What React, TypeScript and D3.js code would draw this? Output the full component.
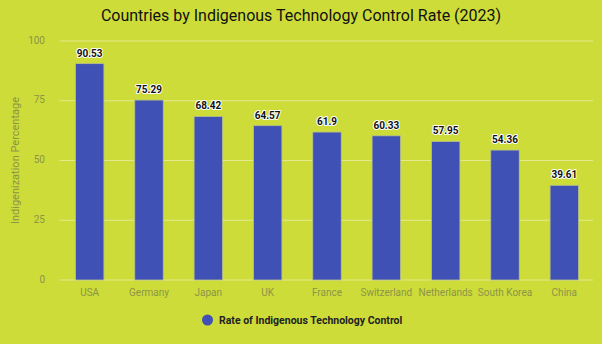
import React from "react";
import * as d3 from "d3";

const categories = ["USA", "Germany", "Japan", "UK", "France", "Switzerland", "Netherlands", "South Korea", "China"];
const values = [90.53, 75.29, 68.42, 64.57, 61.9, 60.33, 57.95, 54.36, 39.61];
const yTicks = [0, 25, 50, 75, 100];
const valueLabels = ["90.53", "75.29", "68.42", "64.57", "61.9", "60.33", "57.95", "54.36", "39.61"];

const W = 602, H = 344;
const BG = "#cddc39";
const BAR = "#3f51b5";
const FONT = "Roboto, 'Noto Sans', sans-serif";

export default function App() {
  const x = d3.scaleBand<string>().domain(categories).range([60, 594]).paddingInner(0.52).paddingOuter(0.26);
  const y = d3.scaleLinear().domain([0, 100]).range([280, 41]);
  return (
    <svg width={W} height={H} style={{ position: "absolute", left: 0, top: 0, display: "block" }}>
      <rect width={W} height={H} fill={BG} />
      <text x={301} y={17} textAnchor="middle" dominantBaseline="middle" fontFamily={FONT} fontSize={16} fill="#111">
        Countries by Indigenous Technology Control Rate (2023)
      </text>
      {yTicks.map((t) => (
        <g key={t}>
          <line x1={59.5} x2={593} y1={y(t)} y2={y(t)} stroke="#e3ea8e" strokeWidth={1} />
          <text x={45} y={y(t)} textAnchor="end" dominantBaseline="middle" fontFamily={FONT} fontSize={10} fill="#8c9448">
            {t}
          </text>
        </g>
      ))}
      <text transform={`translate(16,${y(50)}) rotate(-90)`} textAnchor="middle" dominantBaseline="middle" fontFamily={FONT} fontSize={11} fill="#8c9448">
        Indigenization Percentage
      </text>
      {categories.map((c, i) => (
        <g key={c}>
          <rect x={x(c)} y={y(values[i])} width={x.bandwidth()} height={y(0) - y(values[i])} fill={BAR} stroke="#b9bf8a" strokeWidth={0.8} />
          <text x={(x(c) as number) + x.bandwidth() / 2} y={y(values[i]) - 7} textAnchor="middle" fontFamily={FONT} fontSize={10} fontWeight="bold" fill="#111" stroke="#fff" strokeWidth={2} paintOrder="stroke" strokeLinejoin="round">
            {valueLabels[i]}
          </text>
          <text x={(x(c) as number) + x.bandwidth() / 2} y={293} textAnchor="middle" dominantBaseline="middle" fontFamily={FONT} fontSize={10} fill="#8c9448">
            {c}
          </text>
        </g>
      ))}
      <circle cx={207.5} cy={320} r={5.5} fill={BAR} />
      <text x={219} y={321} dominantBaseline="middle" fontFamily={FONT} fontSize={10.5} fontWeight="bold" fill="#222">
        Rate of Indigenous Technology Control
      </text>
    </svg>
  );
}
